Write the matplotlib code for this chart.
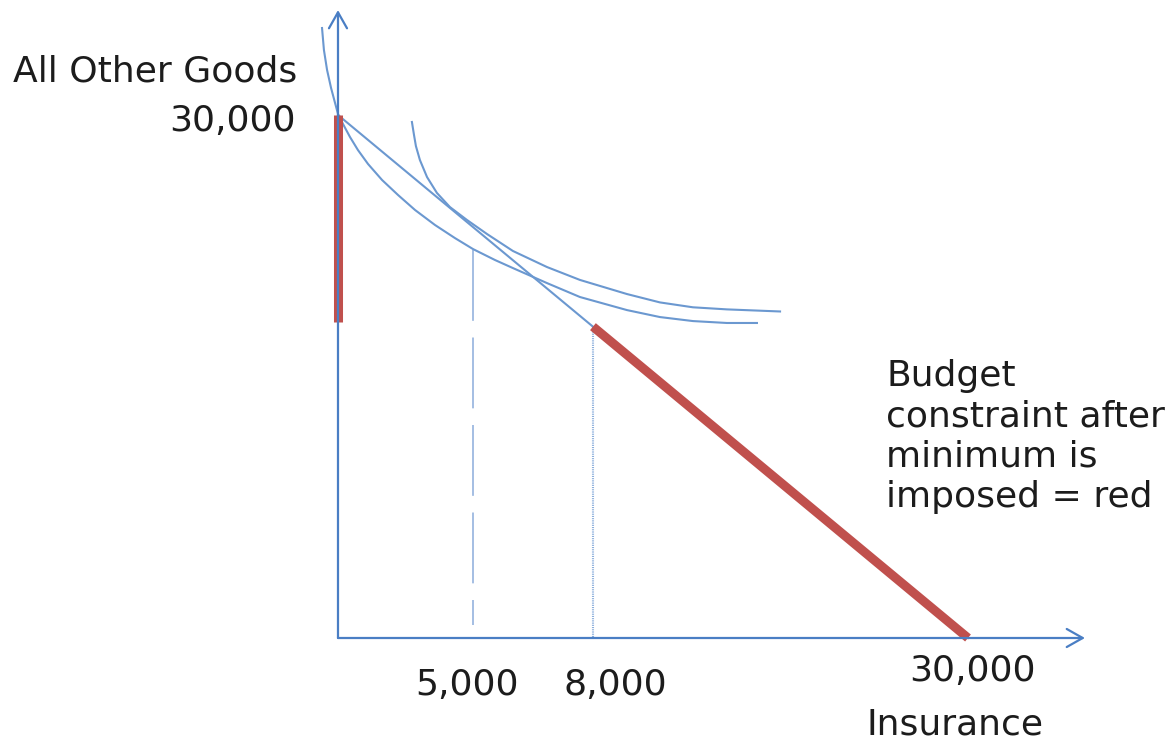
import numpy as np
import matplotlib.pyplot as plt

plt.rcParams['font.family'] = 'DejaVu Sans'
plt.rcParams['lines.scale_dashes'] = False

# everything in thousands, as drawn on the sketch (not to scale)
budget_x = [0, 30]
budget_y = [30, 0]

# red parts = budget constraint after the minimum is imposed
red_axis_x = [0, 0]
red_axis_y = [30, 18.1]
red_line_x = [12.14, 30]
red_line_y = [17.86, 0]

# indifference curves
ic_low_x = [-0.76, -0.67, -0.52, -0.33, -0.14, 0.00, 0.24, 0.57, 0.95, 1.43, 2.10,
            2.86, 3.67, 4.62, 5.57, 6.43, 7.48, 8.33, 9.95, 11.52, 13.76, 15.33,
            16.90, 18.52, 19.95]
ic_low_y = [34.99, 33.73, 32.58, 31.55, 30.69, 30.06, 29.48, 28.74, 27.99, 27.19, 26.27,
            25.41, 24.55, 23.69, 22.94, 22.31, 21.68, 21.22, 20.36, 19.56, 18.81, 18.41,
            18.18, 18.07, 18.07]

ic_high_x = [3.52, 3.62, 3.71, 3.90, 4.24, 4.71, 5.33, 6.14, 7.10, 8.33, 9.95,
             11.52, 13.76, 15.33, 16.90, 18.52, 21.05]
ic_high_y = [29.60, 28.85, 28.22, 27.42, 26.44, 25.53, 24.72, 23.98, 23.17, 22.20, 21.28,
             20.54, 19.73, 19.25, 18.97, 18.85, 18.73]

# dotted drop lines
drop5_x = [6.41, 6.41]
drop5_y = [22.26, 0.75]
drop8_x = [12.14, 12.14]
drop8_y = [17.86, 0]

tick_labels = ['5,000', '8,000', '30,000']
tick_x = [6.14, 13.19, 30.19]

axis_col = '#4A7EC4'
curve_col = '#6B98D0'
red = '#C0504D'
txt = '#1c1c1c'

fig = plt.figure(figsize=(11.68, 7.40), dpi=100)
ax = fig.add_axes([0, 0, 1, 1])
ax.set_xlim(-16.095, 39.524)
ax.set_ylim(-5.851, 36.597)
ax.axis('off')

# axes with open arrow heads
arr = dict(arrowstyle='->,head_length=1.15,head_width=0.65', lw=1.6, color=axis_col,
           shrinkA=0, shrinkB=0, mutation_scale=10)
ax.annotate('', xy=(0, 36.02), xytext=(0, 0), arrowprops=arr)
ax.annotate('', xy=(35.57, 0), xytext=(0, 0), arrowprops=arr)

# drop lines
ax.plot(drop5_x, drop5_y, color='#9DB9E0', lw=1.3, dashes=[51, 12])
ax.plot(drop8_x, drop8_y, color='#8AAEDC', lw=1.5, dashes=[0.8, 0.8])

# curves and budget line
ax.plot(ic_low_x, ic_low_y, color=curve_col, lw=1.5, solid_joinstyle='round')
ax.plot(ic_high_x, ic_high_y, color=curve_col, lw=1.5, solid_joinstyle='round')
ax.plot(budget_x, budget_y, color=curve_col, lw=1.5)

ax.plot(red_axis_x, red_axis_y, color=red, lw=6.5, solid_capstyle='butt')
ax.plot(red_line_x, red_line_y, color=red, lw=6.5, solid_capstyle='butt')

# text
fs = 26
ax.text(-15.48, 31.95, 'All Other Goods', fontsize=fs, color=txt, va='baseline', ha='left')
ax.text(-2.0, 29.08, '30,000', fontsize=fs, color=txt, va='baseline', ha='right')
for lab, xx in zip(tick_labels, tick_x):
    yy = -2.47 if lab == '30,000' else -3.27
    ax.text(xx, yy, lab, fontsize=fs, color=txt, va='baseline', ha='center')
ax.text(29.36, -5.56, 'Insurance', fontsize=fs, color=txt, va='baseline', ha='center')
ax.text(26.1, 7.5, 'Budget\nconstraint after\nminimum is\nimposed = red',
        fontsize=fs, color=txt, va='baseline', ha='left', linespacing=1.24)

fig.savefig('out.png', dpi=100)
